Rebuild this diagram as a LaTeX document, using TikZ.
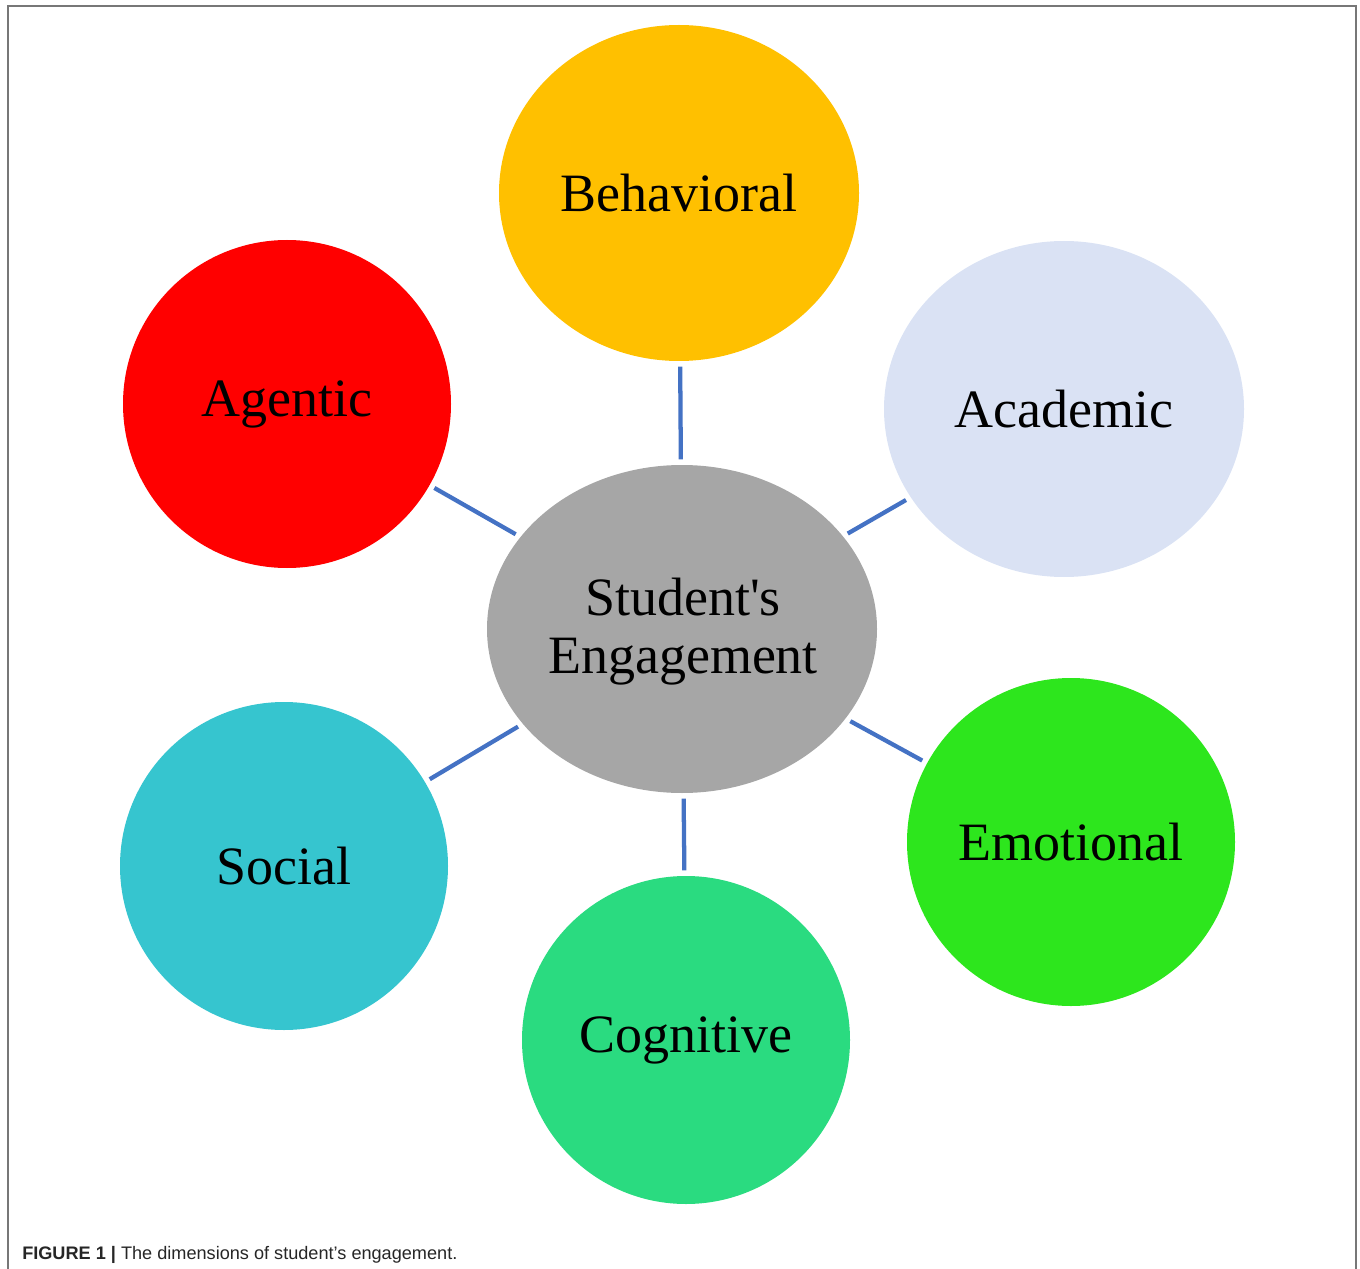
\documentclass[tikz,border=0pt]{standalone}
\usepackage{fontspec}
\setmainfont{Liberation Serif}[Ligatures=TeXOff]
\newfontfamily\capfont{Liberation Sans}
\usetikzlibrary{shapes.geometric}
\definecolor{cBeh}{HTML}{FFC000}
\definecolor{cAca}{HTML}{DAE2F4}
\definecolor{cAge}{HTML}{FF0000}
\definecolor{cCen}{HTML}{A6A6A6}
\definecolor{cSoc}{HTML}{36C5CF}
\definecolor{cCog}{HTML}{2ADB80}
\definecolor{cEmo}{HTML}{2DE61D}
\definecolor{cLink}{HTML}{4472C4}
\definecolor{cFrame}{HTML}{777777}
\begin{document}
\begin{tikzpicture}[x=0.75pt,y=-0.75pt,
  bubble/.style={ellipse,inner sep=0pt,text=black,font=\fontsize{40.5}{43}\selectfont,align=center},
  link/.style={draw=cLink,line width=3.2pt,shorten <=4pt,shorten >=4pt}]
\useasboundingbox (0,0) rectangle (1360,1269);
\draw[cFrame,line width=1.5pt] (8,1269) -- (8,6) -- (1356,6) -- (1356,1269);
\node[bubble,fill=cCen,minimum width=292.5pt,minimum height=246pt,font=\fontsize{40.5}{43.5}\selectfont] (cen) at (682,629) {};
\node[bubble,fill=cBeh,minimum width=270pt,minimum height=252pt] (beh) at (679,193) {Behavioral};
\node[bubble,fill=cAca,minimum width=270pt,minimum height=252pt] (aca) at (1064,409) {Academic};
\node[bubble,fill=cAge,minimum width=246pt,minimum height=246pt] (age) at (287,404) {Agentic};
\node[bubble,fill=cSoc,minimum width=246pt,minimum height=246pt] (soc) at (284,866) {Social};
\node[bubble,fill=cCog,minimum width=246pt,minimum height=246pt] (cog) at (686,1040) {Cognitive};
\node[bubble,fill=cEmo,minimum width=246pt,minimum height=246pt] (emo) at (1071,842) {Emotional};
\node[align=center,inner sep=0pt,font=\fontsize{40.5}{43.5}\selectfont] (centxt) at (683,632) {Student's\\Engagement};
\draw[link] (cen) -- (beh);
\draw[link] (cen) -- (aca);
\draw[link] (cen) -- (age);
\draw[link] (cen) -- (soc);
\draw[link] (cen) -- (cog);
\draw[link] (cen) -- (emo);
\node[anchor=base west,inner sep=0pt,font=\capfont\fontsize{13.6}{15}\selectfont,text=black!85] (cap) at (22,1259) {\textbf{FIGURE 1 |} The dimensions of student’s engagement.};
\end{tikzpicture}
\end{document}
